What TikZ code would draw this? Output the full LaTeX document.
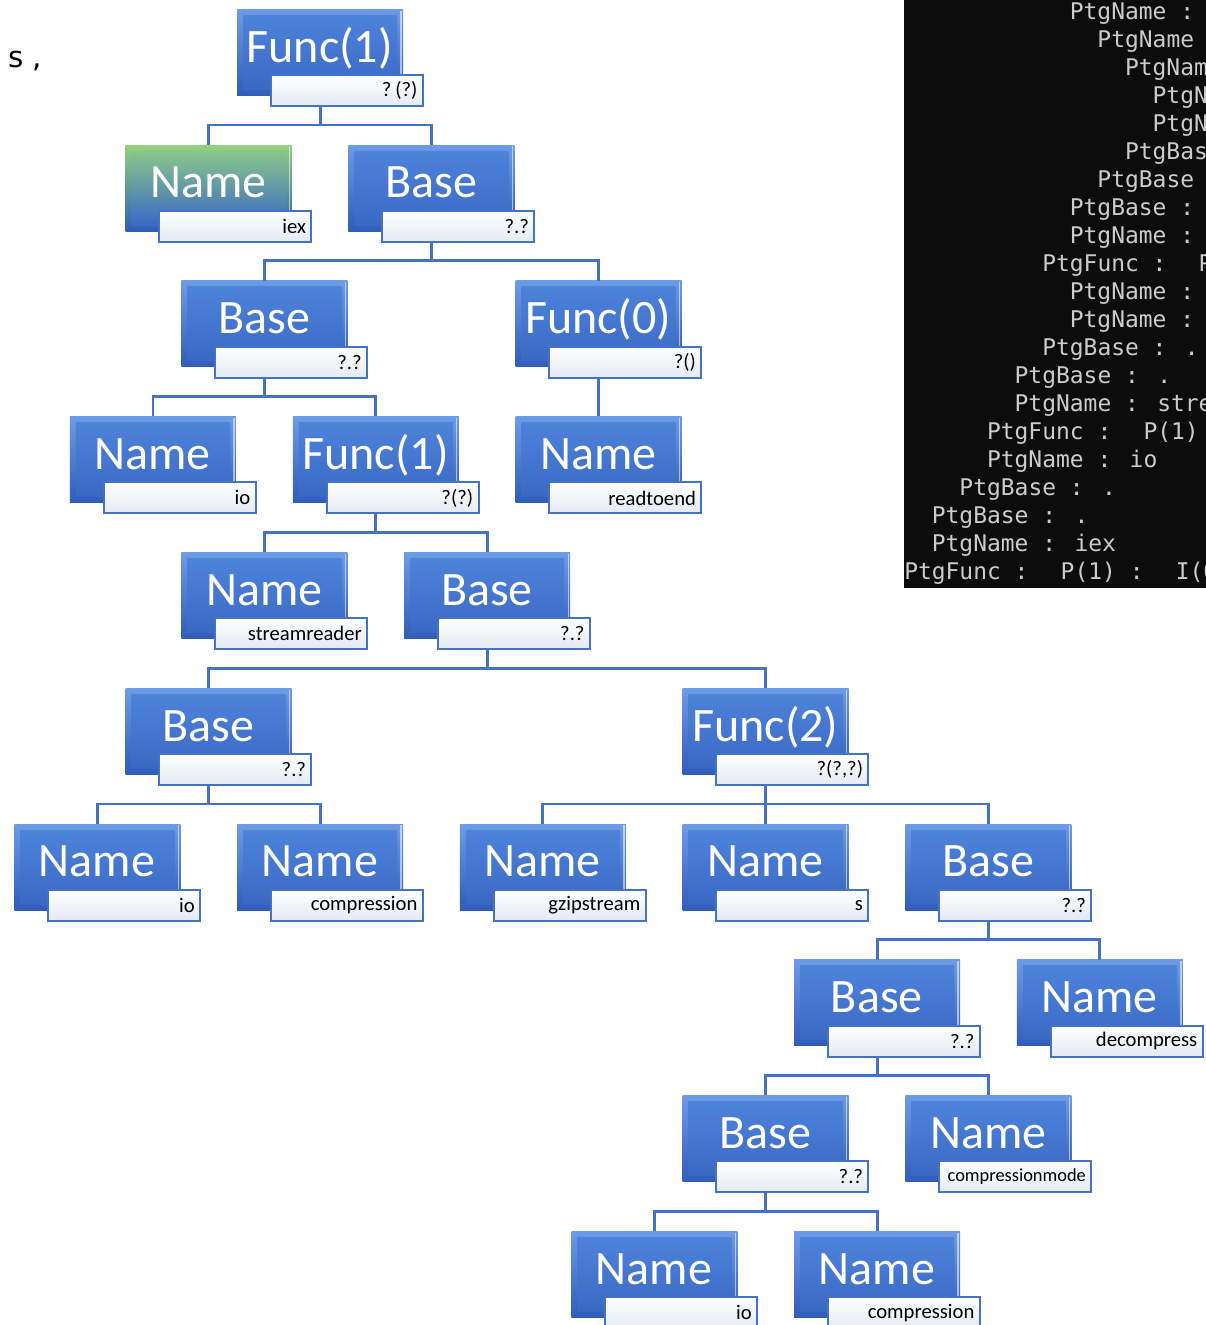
\documentclass[tikz,border=0pt]{standalone}
\usepackage{fontspec}
\setmainfont{Carlito}
\newfontfamily\termfont{DejaVu Sans Mono}
\newfontfamily\plainfont{DejaVu Sans}
\definecolor{edgeblue}{HTML}{4472C4}
\definecolor{bevtop}{HTML}{6E9BE6}
\definecolor{bevbot}{HTML}{2F5DB8}
\definecolor{facetop}{HTML}{4E83DA}
\definecolor{facebot}{HTML}{3A69C4}
\definecolor{greentop}{HTML}{93D27C}
\definecolor{greenmid}{HTML}{5288CC}
\definecolor{labfill}{HTML}{E4E9F4}
\definecolor{termbg}{HTML}{0C0C0C}
\definecolor{termfg}{HTML}{CCCCCC}
\tikzset{
  x=0.75pt, y=-0.75pt,
  bluebox/.style={minimum width=124.5pt, minimum height=64.5pt, inner sep=0pt,
    anchor=north west,
    path picture={
      \shade[top color=bevtop, bottom color=bevbot]
        (path picture bounding box.north west) rectangle (path picture bounding box.south east);
      \shade[top color=facetop, bottom color=facebot]
        ([shift={(4.5pt,-4.5pt)}]path picture bounding box.north west) rectangle
        ([shift={(-4.5pt,4.5pt)}]path picture bounding box.south east);
      \draw[white, opacity=0.55, line width=1pt]
        ([shift={(-1.5pt,-1pt)}]path picture bounding box.north east) --
        ([shift={(-1.5pt,1pt)}]path picture bounding box.south east);
    }},
  greenbox/.style={minimum width=124.5pt, minimum height=64.5pt, inner sep=0pt,
    anchor=north west,
    path picture={
      \shade[top color=greentop, middle color=greenmid, bottom color=bevbot]
        (path picture bounding box.north west) rectangle (path picture bounding box.south east);
      \shade[top color=greentop!85!facetop, middle color=facetop, bottom color=facebot]
        ([shift={(4.5pt,-4.5pt)}]path picture bounding box.north west) rectangle
        ([shift={(-4.5pt,4.5pt)}]path picture bounding box.south east);
      \draw[white, opacity=0.55, line width=1pt]
        ([shift={(-1.5pt,-1pt)}]path picture bounding box.north east) --
        ([shift={(-1.5pt,1pt)}]path picture bounding box.south east);
    }},
  bigtext/.style={text=white, font=\fontsize{36}{40}\selectfont, inner sep=0pt, anchor=base},
  labelbox/.style={draw=edgeblue, line width=1.5pt, top color=white, bottom color=labfill,
    minimum width=114pt, minimum height=23.25pt, text width=106pt, align=right,
    inner xsep=4pt, inner ysep=0pt, anchor=north west,
    font=\fontsize{15.5}{17}\selectfont},
  conn/.style={draw=edgeblue, line width=2.2pt},
  termline/.style={text=termfg, font=\termfont\fontsize{17.2}{20}\selectfont,
    inner sep=0pt, anchor=base west},
}
% #1 style, #2 id, #3 column, #4 row, #5 big text, #6 small text
\newcommand\treenode[6][bluebox]{%
  \pgfmathsetmacro\tncx{97+111.4*#3}%
  \pgfmathsetmacro\tncy{9+135.8*#4}%
  \node[#1] (#2) at (\tncx-83,\tncy) {};
  \node[bigtext] (#2-t) at (\tncx,\tncy+53) {#5};
  \node[labelbox] (#2-l) at (\tncx-50,\tncy+65) {#6};
}
\begin{document}
\begin{tikzpicture}
\useasboundingbox (0,0) rectangle (1206,1325);
\fill[white] (0,0) rectangle (1206,1325);

% stray text top left
\node[font=\plainfont\fontsize{22}{24}\selectfont, inner sep=0pt, anchor=base west] (stray) at (8,67) {s ,};

% terminal panel
\fill[termbg] (904,0) rectangle (1206,588);
\begin{scope}
\clip (904,0) rectangle (1206,588);
\foreach \i/\ind/\txt in {
  1/12/{PtgName :},
  2/14/{PtgName},
  3/16/{PtgNam},
  4/18/{PtgN},
  5/18/{PtgN},
  6/16/{PtgBas},
  7/14/{PtgBase},
  8/12/{PtgBase :},
  9/12/{PtgName :},
  10/10/{PtgFunc :~ P},
  11/12/{PtgName :},
  12/12/{PtgName :},
  13/10/{PtgBase : .},
  14/8/{PtgBase : .},
  15/8/{PtgName : stre},
  16/6/{PtgFunc :~ P(1)},
  17/6/{PtgName : io},
  18/4/{PtgBase : .},
  19/2/{PtgBase : .},
  20/2/{PtgName : iex},
  21/0/{PtgFunc :~ P(1) :~ I(0}}
  \node[termline] (term\i) at (904+13.8*\ind, 19+28*\i-28) {\txt};
\end{scope}

% tree nodes
\treenode{A}{2}{0}{Func(1)}{?\kern3pt(?)}
\treenode[greenbox]{B}{1}{1}{Name}{iex}
\treenode{C}{3}{1}{Base}{?.?}
\treenode{D}{1.5}{2}{Base}{?.?}
\treenode{E}{4.5}{2}{Func(0)}{?()}
\treenode{F}{0.5}{3}{Name}{io}
\treenode{G}{2.5}{3}{Func(1)}{?(?)}
\treenode{H}{4.5}{3}{Name}{readtoend}
\treenode{I}{1.5}{4}{Name}{streamreader}
\treenode{J}{3.5}{4}{Base}{?.?}
\treenode{K}{1}{5}{Base}{?.?}
\treenode{L}{6}{5}{Func(2)}{?(?,?)}
\treenode{M}{0}{6}{Name}{io}
\treenode{N}{2}{6}{Name}{compression}
\treenode{O}{4}{6}{Name}{gzipstream}
\treenode{P}{6}{6}{Name}{s}
\treenode{Q}{8}{6}{Base}{?.?}
\treenode{R}{7}{7}{Base}{?.?}
\treenode{S}{9}{7}{Name}{decompress}
\treenode{T}{6}{8}{Base}{?.?}
\treenode{U}{8}{8}{Name}{\fontsize{13.8}{16}\selectfont compressionmode}
\treenode{V}{5}{9}{Name}{io}
\treenode{W}{7}{9}{Name}{compression}

% connectors
\foreach \p/\c in {A/B, A/C, C/D, C/E, D/F, D/G, E/H, G/I, G/J, J/K, J/L,
                   K/M, K/N, L/O, L/P, L/Q, Q/R, Q/S, R/T, R/U, T/V, T/W}
  \draw[conn] (\p.south |- \p-l.south) -- ++(0,18) -| (\c.north);
\end{tikzpicture}
\end{document}
